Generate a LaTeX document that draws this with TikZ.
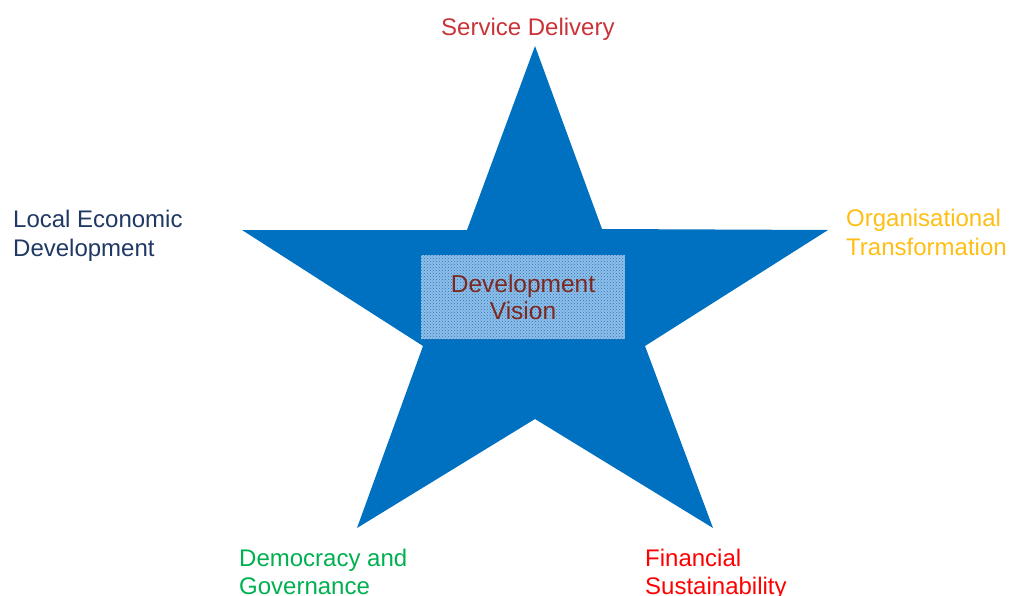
\documentclass[tikz,border=0pt]{standalone}
\usepackage{fontspec}
\setmainfont{Liberation Sans}
\usetikzlibrary{patterns}
\definecolor{starblue}{RGB}{0,112,192}
\definecolor{boxblue}{RGB}{140,192,236}
\definecolor{dotblue}{RGB}{60,112,172}
\definecolor{sdred}{RGB}{200,52,56}
\definecolor{ledblue}{RGB}{31,56,100}
\definecolor{otorange}{RGB}{255,190,20}
\definecolor{dggreen}{RGB}{0,176,80}
\definecolor{fsred}{RGB}{255,0,0}
\definecolor{dvbrown}{RGB}{125,40,30}
\begin{document}
\begin{tikzpicture}[x=1pt,y=-1pt,
  lbl/.style={anchor=base west,inner sep=0pt,font=\fontsize{24}{29}\selectfont},
  vision/.style={minimum width=204pt,minimum height=84pt,inner sep=0pt,
    fill=boxblue,postaction={pattern=crosshatch dots,pattern color=dotblue},
    text=dvbrown,align=center,font=\fontsize{24.5}{28}\selectfont}]
\useasboundingbox (0,0) rectangle (1016,596);
% five-pointed star
\fill[starblue] (535,46) -- (602,229) -- (828,230) -- (645,346) -- (713,528)
  -- (535,419) -- (357,528) -- (423,346) -- (242,230) -- (467,230) -- cycle;
% centre box
\node[vision] (dv) at (523,297) {Development\\[-1pt]Vision};
% point labels
\node[lbl,text=sdred] (sd) at (441,36) {Service Delivery};
\node[lbl,text=ledblue] (led1) at (13,227) {Local Economic};
\node[lbl,text=ledblue] (led2) at (13,256) {Development};
\node[lbl,text=otorange] (ot1) at (846,226) {Organisational};
\node[lbl,text=otorange] (ot2) at (846,255) {Transformation};
\node[lbl,text=dggreen] (dg1) at (239,566) {Democracy and};
\node[lbl,text=dggreen] (dg2) at (239,594) {Governance};
\node[lbl,text=fsred] (fs1) at (645,566) {Financial};
\node[lbl,text=fsred] (fs2) at (645,594) {Sustainability};
\end{tikzpicture}
\end{document}
